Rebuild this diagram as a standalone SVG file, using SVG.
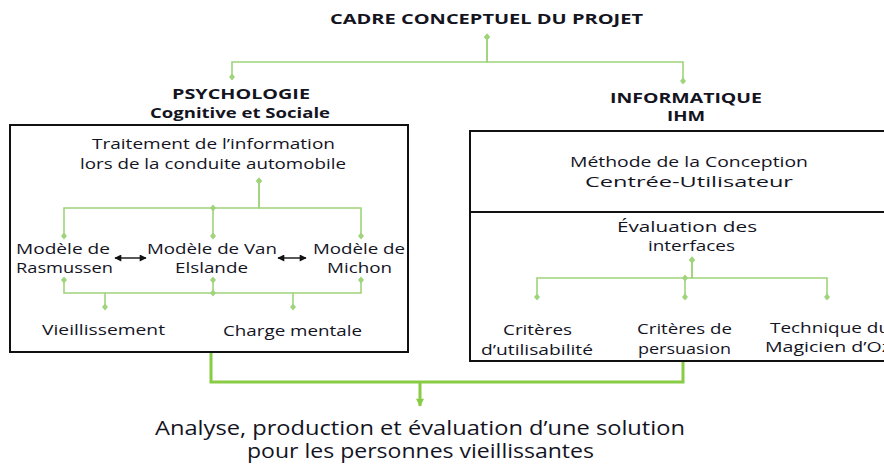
<svg xmlns="http://www.w3.org/2000/svg" width="884" height="464" viewBox="0 0 884 464">
  <style>
    text { font-family: "Open Sans", "Noto Sans", "Liberation Sans", sans-serif; fill: #14141f; text-anchor: middle; }
    .hd { font-weight: bold; font-size: 15px; }
    .t { font-size: 15px; }
    .big { font-size: 19.5px; }
    .box { fill: none; stroke: #111; stroke-width: 2; }
    .link { fill: none; stroke: #9fd47a; stroke-width: 1.6; marker-start: url(#dia); marker-end: url(#dia); }
    .plain { fill: none; stroke: #9fd47a; stroke-width: 1.6; }
    .main { fill: none; stroke: #88cc44; stroke-width: 3; }
    .dbl { stroke: #111; stroke-width: 1.4; marker-start: url(#arrS); marker-end: url(#arrE); }
  </style>
  <defs>
    <marker id="dia" viewBox="-4 -4 8 8" markerWidth="8" markerHeight="8" markerUnits="userSpaceOnUse" refX="0" refY="0" orient="auto">
      <path d="M-3.5,0 L0,-3 L3.5,0 L0,3 Z" fill="#9fd47a"/>
    </marker>
    <marker id="arrE" viewBox="0 0 10 10" markerWidth="8" markerHeight="7" markerUnits="userSpaceOnUse" refX="9" refY="5" orient="auto">
      <path d="M0,0 L10,5 L0,10 Z" fill="#111"/>
    </marker>
    <marker id="arrS" viewBox="0 0 10 10" markerWidth="8" markerHeight="7" markerUnits="userSpaceOnUse" refX="1" refY="5" orient="auto">
      <path d="M10,0 L0,5 L10,10 Z" fill="#111"/>
    </marker>
    <marker id="arrG" viewBox="0 0 10 10" markerWidth="9" markerHeight="8" markerUnits="userSpaceOnUse" refX="9" refY="5" orient="auto">
      <path d="M0,0 L10,5 L0,10 Z" fill="#88cc44"/>
    </marker>
  </defs>

  <!-- connectors -->
  <g id="connectors">
    <!-- project framework to the two disciplines -->
    <path class="link" d="M487,37 V62 H232 V77"/>
    <path class="link" d="M487,37 V62 H683 V81"/>
    <!-- information processing to the three models -->
    <path class="link" d="M259,181 V208 H64 V236"/>
    <path class="link" d="M259,181 V208 H361 V236"/>
    <path class="link" d="M213,208 V236"/>
    <!-- models to ageing and mental workload -->
    <path class="link" d="M64,280 V293 H105 V307"/>
    <path class="link" d="M361,280 V293 H293 V307"/>
    <path class="plain" d="M105,293 H293"/>
    <path class="link" d="M213,280 V293"/>
    <!-- interface evaluation to its three methods -->
    <path class="link" d="M692,260 V278 H537 V297"/>
    <path class="link" d="M692,260 V278 H827 V297"/>
    <path class="link" d="M685,278 V297"/>
    <!-- model interactions -->
    <line class="dbl" x1="115" y1="258" x2="146" y2="258"/>
    <line class="dbl" x1="278" y1="258" x2="306" y2="258"/>
    <!-- convergence toward the solution -->
    <path class="main" d="M211,352 V382 H683 V361"/>
    <path class="main" d="M420,382 V406" marker-end="url(#arrG)" stroke-width="2.5"/>
  </g>

  <g id="title">
    <text class="hd" x="486.5" y="24" textLength="313" lengthAdjust="spacingAndGlyphs">CADRE CONCEPTUEL DU PROJET</text>
  </g>

  <g id="psychologie">
    <text class="hd" x="241" y="99" textLength="138" lengthAdjust="spacingAndGlyphs">PSYCHOLOGIE</text>
    <text class="hd" x="240" y="118" textLength="180" lengthAdjust="spacingAndGlyphs">Cognitive et Sociale</text>
    <rect class="box" x="10" y="125" width="398" height="227"/>
  </g>

  <g id="traitement">
    <text class="t" x="213.5" y="149" textLength="243" lengthAdjust="spacingAndGlyphs">Traitement de l’information</text>
    <text class="t" x="213" y="169" textLength="266" lengthAdjust="spacingAndGlyphs">lors de la conduite automobile</text>
  </g>

  <g id="rasmussen">
    <text class="t" x="63" y="254" textLength="94" lengthAdjust="spacingAndGlyphs">Modèle de</text>
    <text class="t" x="64.5" y="273" textLength="97" lengthAdjust="spacingAndGlyphs">Rasmussen</text>
  </g>
  <g id="vanelslande">
    <text class="t" x="212" y="254" textLength="130" lengthAdjust="spacingAndGlyphs">Modèle de Van</text>
    <text class="t" x="211.5" y="273" textLength="73" lengthAdjust="spacingAndGlyphs">Elslande</text>
  </g>
  <g id="michon">
    <text class="t" x="359" y="254" textLength="92" lengthAdjust="spacingAndGlyphs">Modèle de</text>
    <text class="t" x="359.5" y="273" textLength="65" lengthAdjust="spacingAndGlyphs">Michon</text>
  </g>
  <g id="vieillissement">
    <text class="t" x="103.5" y="335" textLength="123" lengthAdjust="spacingAndGlyphs">Vieillissement</text>
  </g>
  <g id="charge">
    <text class="t" x="292.5" y="336" textLength="139" lengthAdjust="spacingAndGlyphs">Charge mentale</text>
  </g>

  <g id="informatique">
    <text class="hd" x="686" y="103" textLength="152" lengthAdjust="spacingAndGlyphs">INFORMATIQUE</text>
    <text class="hd" x="686" y="121" textLength="38" lengthAdjust="spacingAndGlyphs">IHM</text>
    <rect class="box" x="470" y="131" width="420" height="230"/>
    <line class="box" x1="470" y1="212" x2="890" y2="212"/>
  </g>

  <g id="methode">
    <text class="t" x="689" y="167" textLength="238" lengthAdjust="spacingAndGlyphs">Méthode de la Conception</text>
    <text class="t" x="689" y="187" textLength="208" lengthAdjust="spacingAndGlyphs">Centrée-Utilisateur</text>
  </g>
  <g id="evaluation">
    <text class="t" x="687" y="232" textLength="140" lengthAdjust="spacingAndGlyphs">Évaluation des</text>
    <text class="t" x="691.5" y="251" textLength="87" lengthAdjust="spacingAndGlyphs">interfaces</text>
  </g>
  <g id="utilisabilite">
    <text class="t" x="537.5" y="335" textLength="69" lengthAdjust="spacingAndGlyphs">Critères</text>
    <text class="t" x="537" y="355" textLength="112" lengthAdjust="spacingAndGlyphs">d’utilisabilité</text>
  </g>
  <g id="persuasion">
    <text class="t" x="684.5" y="334" textLength="95" lengthAdjust="spacingAndGlyphs">Critères de</text>
    <text class="t" x="684.5" y="354" textLength="93" lengthAdjust="spacingAndGlyphs">persuasion</text>
  </g>
  <g id="magicien">
    <text class="t" x="830" y="333" textLength="120" lengthAdjust="spacingAndGlyphs">Technique du</text>
    <text class="t" x="828" y="352" textLength="126" lengthAdjust="spacingAndGlyphs">Magicien d’Oz</text>
  </g>

  <g id="solution">
    <text class="big" x="420" y="435" textLength="530" lengthAdjust="spacingAndGlyphs">Analyse, production et évaluation d’une solution</text>
    <text class="big" x="420.5" y="458" textLength="347" lengthAdjust="spacingAndGlyphs">pour les personnes vieillissantes</text>
  </g>
</svg>
